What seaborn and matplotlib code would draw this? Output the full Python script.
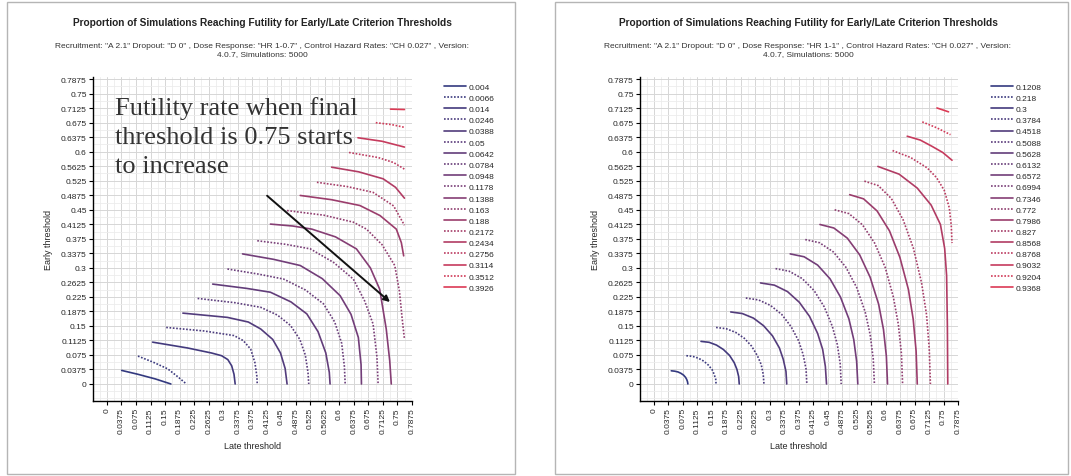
import matplotlib
matplotlib.use("Agg")
import matplotlib.pyplot as plt
import seaborn as sns
from matplotlib.patches import Rectangle
from matplotlib.ticker import MultipleLocator

# Tick labels (same on both axes)
tick_labels = ["0", "0.0375", "0.075", "0.1125", "0.15", "0.1875", "0.225", "0.2625",
               "0.3", "0.3375", "0.375", "0.4125", "0.45", "0.4875", "0.525", "0.5625",
               "0.6", "0.6375", "0.675", "0.7125", "0.75", "0.7875"]

# Left panel: HR 1-0.7
left_levels = ["0.004", "0.0066", "0.014", "0.0246", "0.0388", "0.05", "0.0642", "0.0784",
               "0.0948", "0.1178", "0.1388", "0.163", "0.188", "0.2172", "0.2434", "0.2756",
               "0.3114", "0.3512", "0.3926"]

left_late = [
    [0.038, 0.080, 0.125, 0.165],
    [0.080, 0.120, 0.157, 0.185, 0.205],
    [0.118, 0.208, 0.270, 0.296, 0.312, 0.322, 0.328, 0.331],
    [0.153, 0.250, 0.328, 0.352, 0.371, 0.382, 0.387, 0.388],
    [0.196, 0.311, 0.365, 0.397, 0.428, 0.448, 0.460, 0.465],
    [0.234, 0.330, 0.397, 0.440, 0.474, 0.498, 0.512, 0.519, 0.521],
    [0.273, 0.360, 0.422, 0.475, 0.516, 0.545, 0.565, 0.574, 0.576],
    [0.311, 0.390, 0.456, 0.512, 0.559, 0.588, 0.606, 0.613, 0.615],
    [0.350, 0.430, 0.499, 0.556, 0.602, 0.630, 0.649, 0.656, 0.657],
    [0.388, 0.460, 0.525, 0.585, 0.636, 0.665, 0.687, 0.697, 0.700],
    [0.422, 0.480, 0.529, 0.590, 0.644, 0.680, 0.704, 0.721, 0.730, 0.734],
    [0.465, 0.560, 0.636, 0.670, 0.710, 0.743, 0.755, 0.762, 0.768],
    [0.499, 0.580, 0.653, 0.705, 0.747, 0.760, 0.766],
    [0.542, 0.620, 0.687, 0.740, 0.768],
    [0.580, 0.650, 0.713, 0.745, 0.768],
    [0.625, 0.700, 0.740, 0.768],
    [0.648, 0.710, 0.768],
    [0.694, 0.735, 0.768],
    [0.732, 0.768],
]
left_early = [
    [0.035, 0.025, 0.013, 0.000],
    [0.072, 0.056, 0.039, 0.017, 0.000],
    [0.108, 0.093, 0.080, 0.073, 0.063, 0.047, 0.025, 0.000],
    [0.146, 0.137, 0.125, 0.112, 0.090, 0.055, 0.020, 0.000],
    [0.183, 0.172, 0.160, 0.142, 0.115, 0.080, 0.040, 0.000],
    [0.221, 0.210, 0.198, 0.178, 0.151, 0.115, 0.075, 0.030, 0.000],
    [0.258, 0.247, 0.237, 0.212, 0.181, 0.135, 0.080, 0.030, 0.000],
    [0.297, 0.284, 0.271, 0.243, 0.207, 0.160, 0.105, 0.045, 0.000],
    [0.336, 0.322, 0.306, 0.272, 0.228, 0.180, 0.120, 0.050, 0.000],
    [0.370, 0.361, 0.349, 0.314, 0.271, 0.215, 0.155, 0.070, 0.000],
    [0.413, 0.408, 0.400, 0.380, 0.349, 0.300, 0.245, 0.142, 0.060, 0.000],
    [0.448, 0.436, 0.418, 0.400, 0.360, 0.306, 0.240, 0.170, 0.116],
    [0.487, 0.476, 0.461, 0.435, 0.400, 0.365, 0.331],
    [0.521, 0.510, 0.495, 0.460, 0.410],
    [0.560, 0.548, 0.530, 0.508, 0.480],
    [0.598, 0.585, 0.572, 0.555],
    [0.636, 0.627, 0.612],
    [0.675, 0.670, 0.663],
    [0.710, 0.709],
]

# Right panel: HR 1-1
right_levels = ["0.1208", "0.218", "0.3", "0.3784", "0.4518", "0.5088", "0.5628", "0.6132",
                "0.6572", "0.6994", "0.7346", "0.772", "0.7986", "0.827", "0.8568", "0.8768",
                "0.9032", "0.9204", "0.9368"]

right_late = [
    [0.045, 0.054, 0.0625, 0.070, 0.077, 0.082, 0.085, 0.087, 0.088],
    [0.084, 0.100, 0.115, 0.129, 0.141, 0.151, 0.156, 0.160, 0.161],
    [0.122, 0.143, 0.162, 0.180, 0.196, 0.208, 0.215, 0.2195, 0.221],
    [0.161, 0.187, 0.2115, 0.234, 0.253, 0.268, 0.278, 0.283, 0.285],
    [0.199, 0.229, 0.258, 0.284, 0.307, 0.325, 0.335, 0.342, 0.344],
    [0.238, 0.271, 0.302, 0.331, 0.355, 0.375, 0.3865, 0.394, 0.396],
    [0.276, 0.312, 0.346, 0.3765, 0.403, 0.424, 0.437, 0.444, 0.447],
    [0.315, 0.350, 0.384, 0.415, 0.441, 0.462, 0.475, 0.4825, 0.485],
    [0.353, 0.389, 0.424, 0.456, 0.483, 0.505, 0.5175, 0.525, 0.528],
    [0.392, 0.429, 0.465, 0.497, 0.525, 0.547, 0.560, 0.568, 0.571],
    [0.430, 0.466, 0.501, 0.533, 0.560, 0.582, 0.5945, 0.602, 0.605],
    [0.468, 0.505, 0.540, 0.5715, 0.599, 0.620, 0.633, 0.641, 0.644],
    [0.507, 0.543, 0.578, 0.610, 0.637, 0.659, 0.6715, 0.679, 0.682],
    [0.545, 0.581, 0.615, 0.6455, 0.672, 0.693, 0.706, 0.713, 0.716],
    [0.580, 0.635, 0.682, 0.718, 0.742, 0.753, 0.758, 0.760, 0.761],
    [0.618, 0.665, 0.708, 0.732, 0.752, 0.765, 0.770, 0.772],
    [0.656, 0.690, 0.720, 0.748, 0.772],
    [0.695, 0.732, 0.768],
    [0.733, 0.763],
]
right_early = [
    [0.034, 0.033, 0.031, 0.0275, 0.0227, 0.017, 0.0116, 0.0059, 0.000],
    [0.073, 0.0714, 0.0667, 0.0591, 0.0488, 0.0365, 0.025, 0.0127, 0.000],
    [0.110, 0.1076, 0.1005, 0.089, 0.0736, 0.055, 0.0376, 0.0191, 0.000],
    [0.146, 0.1428, 0.1334, 0.1181, 0.0977, 0.073, 0.0499, 0.0254, 0.000],
    [0.186, 0.1819, 0.170, 0.1505, 0.1244, 0.093, 0.0636, 0.0324, 0.000],
    [0.222, 0.2171, 0.2029, 0.1796, 0.1485, 0.111, 0.0759, 0.0386, 0.000],
    [0.261, 0.2553, 0.2386, 0.2111, 0.1746, 0.1305, 0.0893, 0.0454, 0.000],
    [0.298, 0.2914, 0.2724, 0.2411, 0.1994, 0.149, 0.1019, 0.0519, 0.000],
    [0.336, 0.3286, 0.3071, 0.2718, 0.2248, 0.168, 0.1149, 0.0585, 0.000],
    [0.373, 0.3648, 0.3409, 0.3018, 0.2495, 0.1865, 0.1276, 0.0649, 0.000],
    [0.412, 0.4029, 0.3766, 0.3333, 0.2756, 0.206, 0.1409, 0.0717, 0.000],
    [0.450, 0.4401, 0.4113, 0.3641, 0.3011, 0.225, 0.1539, 0.0783, 0.000],
    [0.489, 0.4782, 0.4469, 0.3956, 0.3271, 0.2445, 0.1672, 0.0851, 0.000],
    [0.524, 0.5125, 0.4789, 0.4239, 0.3506, 0.262, 0.1792, 0.0912, 0.000],
    [0.562, 0.542, 0.506, 0.462, 0.412, 0.350, 0.280, 0.150, 0.000],
    [0.603, 0.585, 0.558, 0.533, 0.500, 0.455, 0.410, 0.364],
    [0.640, 0.630, 0.614, 0.598, 0.578],
    [0.677, 0.662, 0.644],
    [0.713, 0.703],
]

title = "Proportion of Simulations Reaching Futility for Early/Late Criterion Thresholds"
left_sub = ('Recruitment: "A 2.1" Dropout: "D 0" , Dose Response: "HR 1-0.7" , '
            'Control Hazard Rates: "CH 0.027" , Version:\n4.0.7, Simulations: 5000')
right_sub = ('Recruitment: "A 2.1" Dropout: "D 0" , Dose Response: "HR 1-1" , '
             'Control Hazard Rates: "CH 0.027" , Version:\n4.0.7, Simulations: 5000')

sns.set_theme(style="white")
plt.rcParams['font.family'] = ['Liberation Sans', 'DejaVu Sans']

W, H = 1071, 477
fig = plt.figure(figsize=(W / 100, H / 100), dpi=100)
fig.patch.set_facecolor("white")

colors = sns.blend_palette(["#33397f", "#7a3f78", "#dc3a55"], 19)
ticks = [float(t) for t in tick_labels]


def draw_panel(ax, late, early, levels, legend_x):
    for i in range(len(levels)):
        style = "-" if i % 2 == 0 else (0, (1, 1))
        sns.lineplot(x=late[i], y=early[i], ax=ax, color=colors[i], sort=False,
                     estimator=None, linewidth=1.2, linestyle=style, label=levels[i])
    ax.set_xlim(-0.036, 0.7875)
    ax.set_ylim(-0.044, 0.793)
    ax.set_xticks(ticks)
    ax.set_xticklabels(tick_labels, rotation=90)
    ax.set_yticks(ticks)
    ax.set_yticklabels(tick_labels)
    ax.xaxis.set_minor_locator(MultipleLocator(0.01875))
    ax.yaxis.set_minor_locator(MultipleLocator(0.01875))
    ax.grid(which="major", color="#d6d6d6", linewidth=0.7)
    ax.grid(which="minor", color="#ececec", linewidth=0.6)
    ax.set_axisbelow(True)
    ax.tick_params(axis="both", which="major", labelsize=6, length=3, width=0.8,
                   direction="out", color="black", left=True, bottom=True, pad=1.5)
    ax.tick_params(which="minor", length=0)
    for s in ["top", "right"]:
        ax.spines[s].set_visible(False)
    for s in ["left", "bottom"]:
        ax.spines[s].set_color("black")
        ax.spines[s].set_linewidth(1.0)
    ax.set_xlabel("Late threshold", fontsize=6.5, labelpad=6)
    ax.set_ylabel("Early threshold", fontsize=6.5, labelpad=6)
    handles, labels = ax.get_legend_handles_labels()
    ax.get_legend().remove()
    fig.legend(handles, labels, loc="upper left",
               bbox_to_anchor=(legend_x / W, 1 - 84 / H), frameon=False,
               fontsize=6, handlelength=2.6, handletextpad=0.4,
               labelspacing=0.4, borderpad=0, borderaxespad=0)


ax1 = fig.add_axes([93 / W, 75 / H, 319 / W, 324 / H])
draw_panel(ax1, left_late, left_early, left_levels, 444)
ax2 = fig.add_axes([640 / W, 75 / H, 318 / W, 324 / H])
draw_panel(ax2, right_late, right_early, right_levels, 991)

# Annotation on the left panel
ax1.text(0.02, 0.745, "Futility rate when final\nthreshold is 0.75 starts\nto increase",
         family=["Liberation Serif", "DejaVu Serif"], fontsize=19, color="#333333",
         ha="left", va="top", linespacing=1.42)
ax1.annotate("", xy=(0.736, 0.207), xytext=(0.408, 0.491),
             arrowprops=dict(arrowstyle="-|>", color="#111111", lw=1.4,
                             mutation_scale=9))

# Titles and subtitles
for cx, sub in [(262, left_sub), (808, right_sub)]:
    fig.text(cx / W, 1 - 23 / H, title, ha="center", va="center",
             fontsize=7.3, fontweight="bold", color="#222222")
    fig.text(cx / W, 1 - 51 / H, sub, ha="center", va="center",
             fontsize=6, color="#333333", linespacing=1.2)

# Panel frames
for x0, x1 in [(7, 515), (555, 1068)]:
    fig.add_artist(Rectangle((x0 / W, 2 / H), (x1 - x0) / W, (H - 5) / H,
                             transform=fig.transFigure, fill=False,
                             edgecolor="#b5b5b5", linewidth=1.0))

fig.savefig("out.png", dpi=100, facecolor="white")
